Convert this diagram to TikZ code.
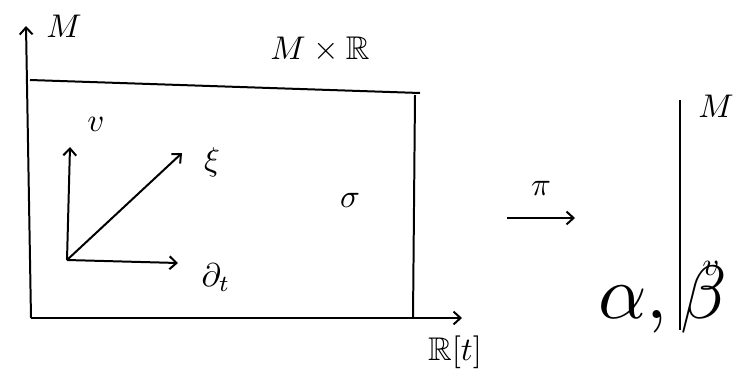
\documentclass[tikz,border=0pt]{standalone}
\usepackage{amsmath,amssymb,amsfonts}
\usetikzlibrary{arrows.meta}

\begin{document}
\begin{tikzpicture}[x=0.03cm, y=-0.03cm, line width=1.7pt,
  >={Straight Barb[length=6pt,width=11pt]},
  lbl/.style={inner sep=0.5pt, scale=2.8}]
\useasboundingbox (0,0) rectangle (738,386);
% product space
\coordinate (Mtop) at (26,26);
\coordinate (TL) at (30,80);
\coordinate (TR) at (420,93);
\coordinate (BL) at (31,318);
\coordinate (BR) at (413,318);
\coordinate (Tend) at (462,318);
\draw[->] (BL) -- (Mtop);
\draw (TL) -- (TR);
\draw (415,95) -- (BR);
\draw[->] (BL) -- (Tend);
\node[lbl] (M) at (64,26) {$M$};
\node[lbl] (MR) at (320,50) {$M\times\mathbb{R}$};
\node[lbl] (Rt) at (455,352) {$\mathbb{R}[t]$};
\node[lbl] (sigma) at (350,200) {$\sigma$};
% vectors at a point
\coordinate (O) at (67,260);
\coordinate (vtip) at (70,147);
\coordinate (xitip) at (182,153);
\coordinate (dttip) at (178,263);
\draw[->] (O) -- (vtip);
\draw[->] (O) -- (xitip);
\draw[->] (O) -- (dttip);
\node[lbl] (v) at (96,124) {$v$};
\node[lbl] (xi) at (212,162) {$\xi$};
\node[lbl] (dt) at (216,278) {$\partial_t$};
% projection
\coordinate (pis) at (507,218);
\coordinate (pie) at (575,218);
\draw[->] (pis) -- (pie);
\node[lbl] (pi) at (541,188) {$\pi$};
% base
\coordinate (Bt) at (680,100);
\coordinate (Bb) at (680,330);
\draw (Bt) -- (Bb);
\node[lbl, anchor=west] (MB) at (694,106) {$M$};
\node[lbl, anchor=west] (vB) at (698,268) {$v$};
\node[lbl, anchor=east, scale=2.3] (ab) at (737,300) {$\alpha,\beta$};
\end{tikzpicture}
\end{document}
